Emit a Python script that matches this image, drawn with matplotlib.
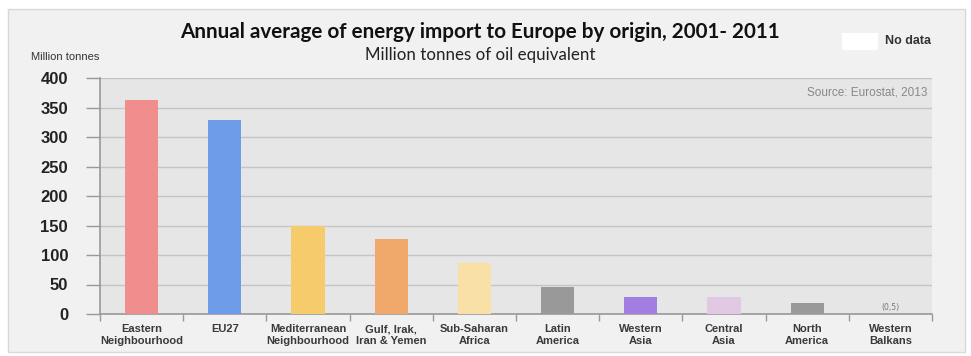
import numpy as np
import matplotlib
matplotlib.use("Agg")
import matplotlib.pyplot as plt
from matplotlib.patches import Rectangle

# Data
categories = ["Eastern\nNeighbourhood", "EU27", "Mediterranean\nNeighbourhood",
              "Gulf, Irak,\nIran & Yemen", "Sub-Saharan\nAfrica", "Latin\nAmerica",
              "Western\nAsia", "Central\nAsia", "North\nAmerica", "Western\nBalkans"]
values = [363, 328, 149, 127, 86, 45, 29, 28, 18, 0.5]
colors = ["#f08d8d", "#6f9ce9", "#f5cb6c", "#f0a96a", "#f9e0a6", "#999999",
          "#a27de2", "#e2c9e3", "#999999", "#e6e6e6"]
yticks = [0, 50, 100, 150, 200, 250, 300, 350, 400]

fig = plt.figure(figsize=(9.71, 3.56), dpi=100)

# outer light panel
fig.patches.append(Rectangle((8 / 971, 4 / 356), 957 / 971, 343 / 356,
                             transform=fig.transFigure, facecolor="#f1f1f1",
                             edgecolor="#d8d8d8", linewidth=1, zorder=-5))

ax = fig.add_axes([100 / 971, 42 / 356, 832 / 971, 236 / 356])
ax.set_facecolor("#e6e6e6")

x = np.arange(len(categories))
ax.bar(x, values, width=0.4, color=colors, zorder=3)
ax.text(x[-1], values[-1] + 3, "(0,5)", ha="center", va="bottom",
        fontsize=5.5, color="#777777", zorder=4)

ax.set_xlim(-0.5, len(categories) - 0.5)
ax.set_ylim(0, 400)
ax.set_yticks(yticks)
ax.set_yticklabels([str(t) for t in yticks], fontsize=12, fontweight="bold",
                   color="#222222", family="Liberation Sans")
ax.yaxis.grid(True, color="#c4c4c4", linewidth=1, zorder=1)
ax.set_axisbelow(True)
ax.tick_params(axis="y", length=10, width=1, color="#999999", pad=13)

# category labels and boundary ticks
ax.set_xticks(np.arange(-0.5, len(categories), 1))
ax.set_xticklabels([])
ax.tick_params(axis="x", length=5, width=1, color="#999999", direction="out")
for xi, lab in zip(x, categories):
    ax.text(xi, -17, lab, ha="center", va="top", fontsize=8,
            fontweight="bold", color="#3a3a3a", family="Liberation Sans",
            linespacing=1.3)

for s in ["top", "right"]:
    ax.spines[s].set_visible(False)
for s in ["left", "bottom"]:
    ax.spines[s].set_color("#999999")
    ax.spines[s].set_linewidth(1.2)

ax.text(0.995, 0.965, "Source: Eurostat, 2013", transform=ax.transAxes,
        ha="right", va="top", fontsize=8.5, color="#888888",
        family="Liberation Sans")

fig.text(480 / 971, 1 - 32 / 356, "Annual average of energy import to Europe by origin, 2001- 2011",
         ha="center", va="center", fontsize=14.9, fontweight="bold",
         color="#111111", family="Lato")
fig.text(480 / 971, 1 - 55 / 356, "Million tonnes of oil equivalent",
         ha="center", va="center", fontsize=12.2, color="#222222", family="Lato")
fig.text(31 / 971, 1 - 57 / 356, "Million tonnes", ha="left", va="center",
         fontsize=8, color="#333333", family="Liberation Sans")

# "No data" legend box
fig.patches.append(Rectangle((842 / 971, 1 - 50 / 356), 36 / 971, 17 / 356,
                             transform=fig.transFigure, facecolor="white",
                             edgecolor="none", zorder=2))
fig.text(885 / 971, 1 - 41 / 356, "No data", ha="left", va="center",
         fontsize=9, fontweight="bold", color="#333333", family="Liberation Sans")

fig.savefig("out.png", dpi=100)
